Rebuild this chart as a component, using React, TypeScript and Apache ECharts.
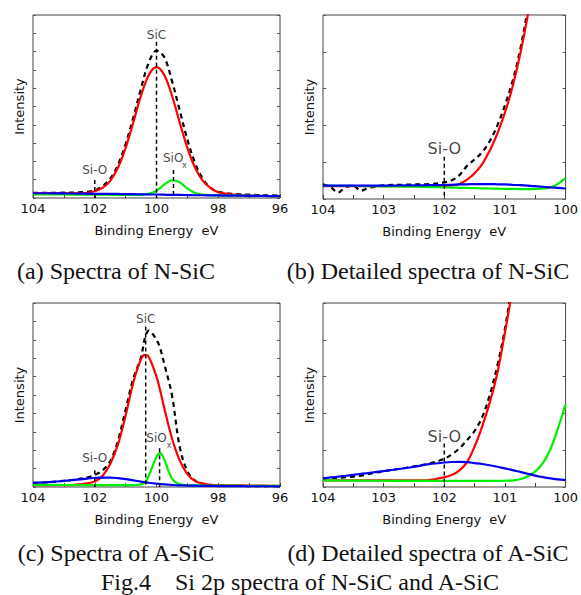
import React, { useEffect, useRef } from "react";
import * as echarts from "echarts";

// ---------- DATA ----------
// Panel (a): Spectra of N-SiC
const aEnergy = [104, 103.5, 103, 102.5, 102, 101.75, 101.5, 101.25, 101, 100.75, 100.5, 100.25, 100, 99.75, 99.5, 99.25, 99, 98.75, 98.5, 98.25, 98, 97.5, 97, 96.5, 96];
const aMeasured = [2.8, 2.8, 2.9, 3.1, 4.2, 6.5, 10.5, 18, 29.5, 44, 60, 74, 80.5, 77, 64, 48, 32, 19, 10.5, 5.5, 3.4, 2.2, 1.8, 1.5, 1.3];
const aSiC = [2.6, 2.6, 2.5, 2.5, 3.7, 5.5, 9.4, 16.5, 27.4, 41.4, 56, 67.2, 71.5, 67.2, 56, 41.4, 27.4, 16.5, 9.4, 5.5, 3.2, 1.8, 1.3, 1.1, 0.9];
const aSiOx = [2.0, 1.95, 1.9, 1.85, 1.8, 1.8, 1.75, 1.7, 1.7, 1.7, 1.8, 2.3, 4.0, 7.3, 9.7, 8.6, 5.2, 2.7, 1.8, 1.5, 1.4, 1.3, 1.2, 1.1, 1.0];
const aSiO = [2.6, 2.6, 2.5, 2.4, 2.3, 2.3, 2.2, 2.2, 2.1, 2.1, 2.0, 1.9, 1.9, 1.8, 1.7, 1.7, 1.6, 1.5, 1.5, 1.4, 1.4, 1.3, 1.2, 1.1, 1.0];

// Panel (b): Detailed spectra of N-SiC
const bEnergy = [104, 103.875, 103.75, 103.625, 103.5, 103.375, 103.25, 103, 102.75, 102.5, 102.25, 102, 101.875, 101.75, 101.625, 101.5, 101.375, 101.25, 101.125, 101, 100.875, 100.75, 100.625, 100.5, 100.375, 100.25, 100.125, 100];
const bMeasured = [8.0, 6.5, 3.5, 6.5, 7.2, 4.5, 6.0, 7.4, 7.7, 7.9, 8.1, 9.0, 10.2, 13, 18, 21.5, 25.5, 31.5, 40, 51, 64, 81, 103, 128, 155, 185, 215, 245];
const bSiC = [7.0, 7.0, 7.0, 7.0, 7.0, 7.0, 7.0, 7.0, 7.0, 7.0, 7.0, 7.1, 7.4, 8.2, 10.5, 14.0, 19, 26.3, 35.5, 47, 61, 78.5, 99.5, 124, 150, 180, 210, 240];
const bSiOx = [7.2, 7.2, 7.2, 7.15, 7.1, 7.05, 7.0, 6.9, 6.8, 6.7, 6.5, 6.3, 6.2, 6.1, 6.0, 5.9, 5.8, 5.7, 5.6, 5.5, 5.5, 5.4, 5.4, 5.5, 5.7, 6.3, 8.2, 11.3];
const bSiO = [7.3, 7.3, 7.3, 7.3, 7.3, 7.3, 7.3, 7.3, 7.35, 7.4, 7.5, 7.6, 7.75, 7.9, 8.0, 8.1, 8.1, 8.1, 8.0, 7.9, 7.7, 7.5, 7.25, 7.0, 6.65, 6.3, 6.0, 5.7];

// Panel (c): Spectra of A-SiC
const cEnergy = [104, 103.5, 103, 102.75, 102.5, 102.25, 102, 101.75, 101.5, 101.25, 101, 100.75, 100.5, 100.375, 100.25, 100, 99.875, 99.75, 99.5, 99.25, 99, 98.75, 98.5, 98.25, 98, 97.5, 97, 96.5, 96];
const cMeasured = [2.2, 2.6, 3.4, 3.8, 4.4, 5.2, 6.5, 9, 14, 25, 42, 59, 70.5, 81, 85, 80, 75, 67, 50, 22, 8.5, 3.5, 1.8, 1.2, 0.9, 0.6, 0.5, 0.4, 0.4];
const cSiC = [1.0, 1.0, 1.0, 1.1, 1.4, 2.0, 3.0, 6.0, 12.5, 23, 38.8, 56.8, 69.5, 71.8, 70.7, 60, 52, 43, 26.5, 14.5, 7, 3.2, 1.8, 1.2, 1.0, 0.9, 0.8, 0.7, 0.6];
const cSiOx = [1.2, 1.2, 1.1, 1.1, 1.1, 1.0, 1.0, 1.0, 1.0, 1.0, 1.0, 1.0, 1.4, 2.6, 6, 16.5, 18.4, 15.0, 4.6, 1.4, 1.0, 0.9, 0.8, 0.8, 0.7, 0.7, 0.6, 0.6, 0.6];
const cSiO = [2.2, 2.6, 3.3, 3.7, 4.1, 4.6, 4.9, 5.1, 5.1, 4.8, 4.3, 3.6, 2.9, 2.6, 2.3, 1.8, 1.6, 1.4, 1.1, 0.9, 0.8, 0.7, 0.6, 0.6, 0.5, 0.5, 0.4, 0.4, 0.4];

// Panel (d): Detailed spectra of A-SiC
const dEnergy = [104, 103.875, 103.75, 103.625, 103.5, 103.375, 103.25, 103, 102.75, 102.5, 102.25, 102, 101.875, 101.75, 101.625, 101.5, 101.375, 101.25, 101.125, 101, 100.875, 100.75, 100.625, 100.5, 100.375, 100.25, 100.125, 100];
const dMeasured = [4.8, 4.9, 5.0, 5.3, 5.6, 6.2, 7.0, 8.6, 9.8, 11.2, 12.8, 15.3, 17.8, 21.0, 25.5, 30.5, 38, 50, 66, 86, 112, 140, 170, 200, 230, 260, 290, 320];
const dSiC = [3.6, 3.6, 3.6, 3.6, 3.6, 3.6, 3.6, 3.6, 3.6, 3.6, 3.8, 5.3, 6.5, 9.0, 13.5, 22, 33, 46, 62, 84, 108, 135, 165, 195, 225, 255, 285, 315];
const dSiOx = [3.6, 3.6, 3.55, 3.5, 3.5, 3.45, 3.4, 3.4, 3.35, 3.3, 3.3, 3.3, 3.3, 3.3, 3.3, 3.3, 3.3, 3.3, 3.35, 3.4, 3.6, 4.2, 5.8, 8.5, 13, 20.5, 32, 45];
const dSiO = [4.6, 5.2, 5.6, 6.1, 6.6, 7.2, 7.6, 8.6, 9.8, 11.0, 12.4, 13.3, 13.6, 13.7, 13.5, 13.0, 12.5, 11.8, 11.0, 10.1, 9.2, 8.2, 7.2, 6.2, 5.4, 4.7, 4.1, 3.7];

// Peak marker positions (binding energy, eV)
const aPeaks = { SiC: 100, SiO: 102, SiOx: 99.45 };
const cPeaks = { SiC: 100.35, SiO: 102, SiOx: 99.9 };
const bPeaks = { SiO: 102 };
const dPeaks = { SiO: 102 };

const captions = [
  "(a) Spectra of N-SiC",
  "(b) Detailed spectra of N-SiC",
  "(c) Spectra of A-SiC",
  "(d) Detailed spectra of A-SiC",
];
const figTitle = "Fig.4    Si 2p spectra of N-SiC and A-SiC";
const xName = "Binding Energy  eV";
const yName = "Intensity";

// ---------- LAYOUT / STYLE ----------
const SANS = '"DejaVu Sans", Verdana, sans-serif';
const SERIF = '"Liberation Serif", "Times New Roman", serif';
const grids = [
  { left: 33, top: 15, width: 247, height: 183 },
  { left: 323, top: 15, width: 247, height: 184 },
  { left: 33, top: 303, width: 247, height: 184 },
  { left: 323, top: 303, width: 247, height: 184 },
];
const RED = "#ff0000";
const GREEN = "#00ee00";
const BLUE = "#0000ee";

function zip(xs: number[], ys: number[]) {
  return xs.map((x, i) => [x, ys[i]]);
}

function curve(idx: number, xs: number[], ys: number[], color: string, dashed = false, z = 3) {
  return {
    type: "line",
    xAxisIndex: idx,
    yAxisIndex: idx * 2,
    data: zip(xs, ys),
    smooth: 0.35,
    symbol: "none",
    clip: true,
    z,
    lineStyle: { color, width: 2.2, type: dashed ? [5, 4] : "solid" },
  };
}

function marker(idx: number, e: number, top: number) {
  return {
    type: "line",
    xAxisIndex: idx,
    yAxisIndex: idx * 2,
    data: [[e, top], [e, 0]],
    symbol: "none",
    z: 6,
    lineStyle: { color: "#000", width: 1.5, type: [4, 3] },
  };
}

function textLabel(idx: number, e: number, v: number, text: string, size: number) {
  return {
    type: "scatter",
    xAxisIndex: idx,
    yAxisIndex: idx * 2,
    data: [[e, v]],
    symbolSize: 1,
    z: 7,
    itemStyle: { color: "rgba(0,0,0,0)" },
    label: {
      show: true,
      position: "inside",
      formatter: text,
      color: "#111",
      fontFamily: SANS,
      fontSize: size,
    },
  };
}

function xAxis(idx: number, min: number, max: number, interval: number, labelStep: number) {
  return {
    type: "value",
    gridIndex: idx,
    min,
    max,
    interval,
    inverse: true,
    name: xName,
    nameLocation: "middle",
    nameGap: 26,
    nameTextStyle: { fontFamily: SANS, fontSize: 13, color: "#111" },
    axisLine: { show: false },
    axisTick: { show: true, inside: true, length: 4, lineStyle: { color: "#444" } },
    axisLabel: {
      margin: 4,
      fontFamily: SANS,
      fontSize: 13,
      color: "#111",
      formatter: (v: number) => (Math.abs(v / labelStep - Math.round(v / labelStep)) < 1e-6 ? String(v) : ""),
    },
    splitLine: { show: false },
  };
}

function yAxes(idx: number, interval: number) {
  const base = {
    type: "value",
    gridIndex: idx,
    min: 0,
    max: 100,
    interval,
    axisLine: { show: false },
    axisLabel: { show: false },
    splitLine: { show: false },
    axisTick: { show: true, inside: true, length: 3, lineStyle: { color: "#555" } },
  };
  return [
    {
      ...base,
      position: "left",
      name: yName,
      nameLocation: "middle",
      nameGap: 7,
      nameRotate: 90,
      nameTextStyle: { fontFamily: SANS, fontSize: 13, color: "#111" },
    },
    { ...base, position: "right" },
  ];
}

export default function App() {
  const ref = useRef<HTMLDivElement>(null);
  useEffect(() => {
    if (!ref.current) return;
    const chart = echarts.init(ref.current, undefined, { renderer: "svg" });
    const series: any[] = [
      // (a)
      curve(0, aEnergy, aMeasured, "#000", true, 2),
      curve(0, aEnergy, aSiC, RED),
      curve(0, aEnergy, aSiOx, GREEN),
      curve(0, aEnergy, aSiO, BLUE, false, 4),
      marker(0, aPeaks.SiC, 85.4),
      marker(0, aPeaks.SiO, 9.8),
      marker(0, aPeaks.SiOx, 15.3),
      textLabel(0, aPeaks.SiC, 89, "SiC", 12),
      textLabel(0, aPeaks.SiO, 15.3, "Si-O", 12),
      textLabel(0, 99.46, 21.7, "SiO", 12),
      textLabel(0, 99.1, 17.7, "x", 8),
      // (b)
      curve(1, bEnergy, bMeasured, "#000", true, 2),
      curve(1, bEnergy, bSiC, RED),
      curve(1, bEnergy, bSiOx, GREEN),
      curve(1, bEnergy, bSiO, BLUE, false, 4),
      marker(1, bPeaks.SiO, 23),
      textLabel(1, bPeaks.SiO, 27.7, "Si-O", 16),
      // (c)
      curve(2, cEnergy, cMeasured, "#000", true, 2),
      curve(2, cEnergy, cSiC, RED),
      curve(2, cEnergy, cSiOx, GREEN),
      curve(2, cEnergy, cSiO, BLUE, false, 4),
      marker(2, cPeaks.SiC, 87.2),
      marker(2, cPeaks.SiO, 9.1),
      marker(2, cPeaks.SiOx, 21),
      textLabel(2, cPeaks.SiC, 91.3, "SiC", 12),
      textLabel(2, cPeaks.SiO, 16, "Si-O", 12),
      textLabel(2, 100.0, 26.4, "SiO", 12),
      textLabel(2, 99.59, 22.7, "x", 8),
      // (d)
      curve(3, dEnergy, dMeasured, "#000", true, 2),
      curve(3, dEnergy, dSiC, RED),
      curve(3, dEnergy, dSiOx, GREEN),
      curve(3, dEnergy, dSiO, BLUE, false, 4),
      marker(3, dPeaks.SiO, 23.6),
      textLabel(3, dPeaks.SiO, 27.3, "Si-O", 16),
    ];

    const capPos = [
      { x: 116, y: 271 },
      { x: 428, y: 271 },
      { x: 116, y: 553 },
      { x: 428, y: 553 },
    ];
    const graphic: any[] = captions.map((t, i) => ({
      type: "text",
      x: capPos[i].x,
      y: capPos[i].y,
      style: { text: t, font: `24px ${SERIF}`, fill: "#111", align: "center", verticalAlign: "middle" },
    }));
    graphic.push({
      type: "text",
      x: 300,
      y: 582,
      style: { text: figTitle, font: `24px ${SERIF}`, fill: "#111", align: "center", verticalAlign: "middle" },
    });

    chart.setOption({
      animation: false,
      backgroundColor: "#ffffff",
      grid: grids.map((g) => ({ ...g, show: true, borderColor: "#444", borderWidth: 1, backgroundColor: "transparent" })),
      xAxis: [
        xAxis(0, 96, 104, 1, 2),
        xAxis(1, 100, 104, 0.5, 1),
        xAxis(2, 96, 104, 1, 2),
        xAxis(3, 100, 104, 0.5, 1),
      ],
      yAxis: [...yAxes(0, 10), ...yAxes(1, 20), ...yAxes(2, 10), ...yAxes(3, 20)],
      series,
      graphic,
    });
    return () => chart.dispose();
  }, []);
  return <div ref={ref} style={{ position: "fixed", left: 0, top: 0, width: 581, height: 595 }} />;
}
